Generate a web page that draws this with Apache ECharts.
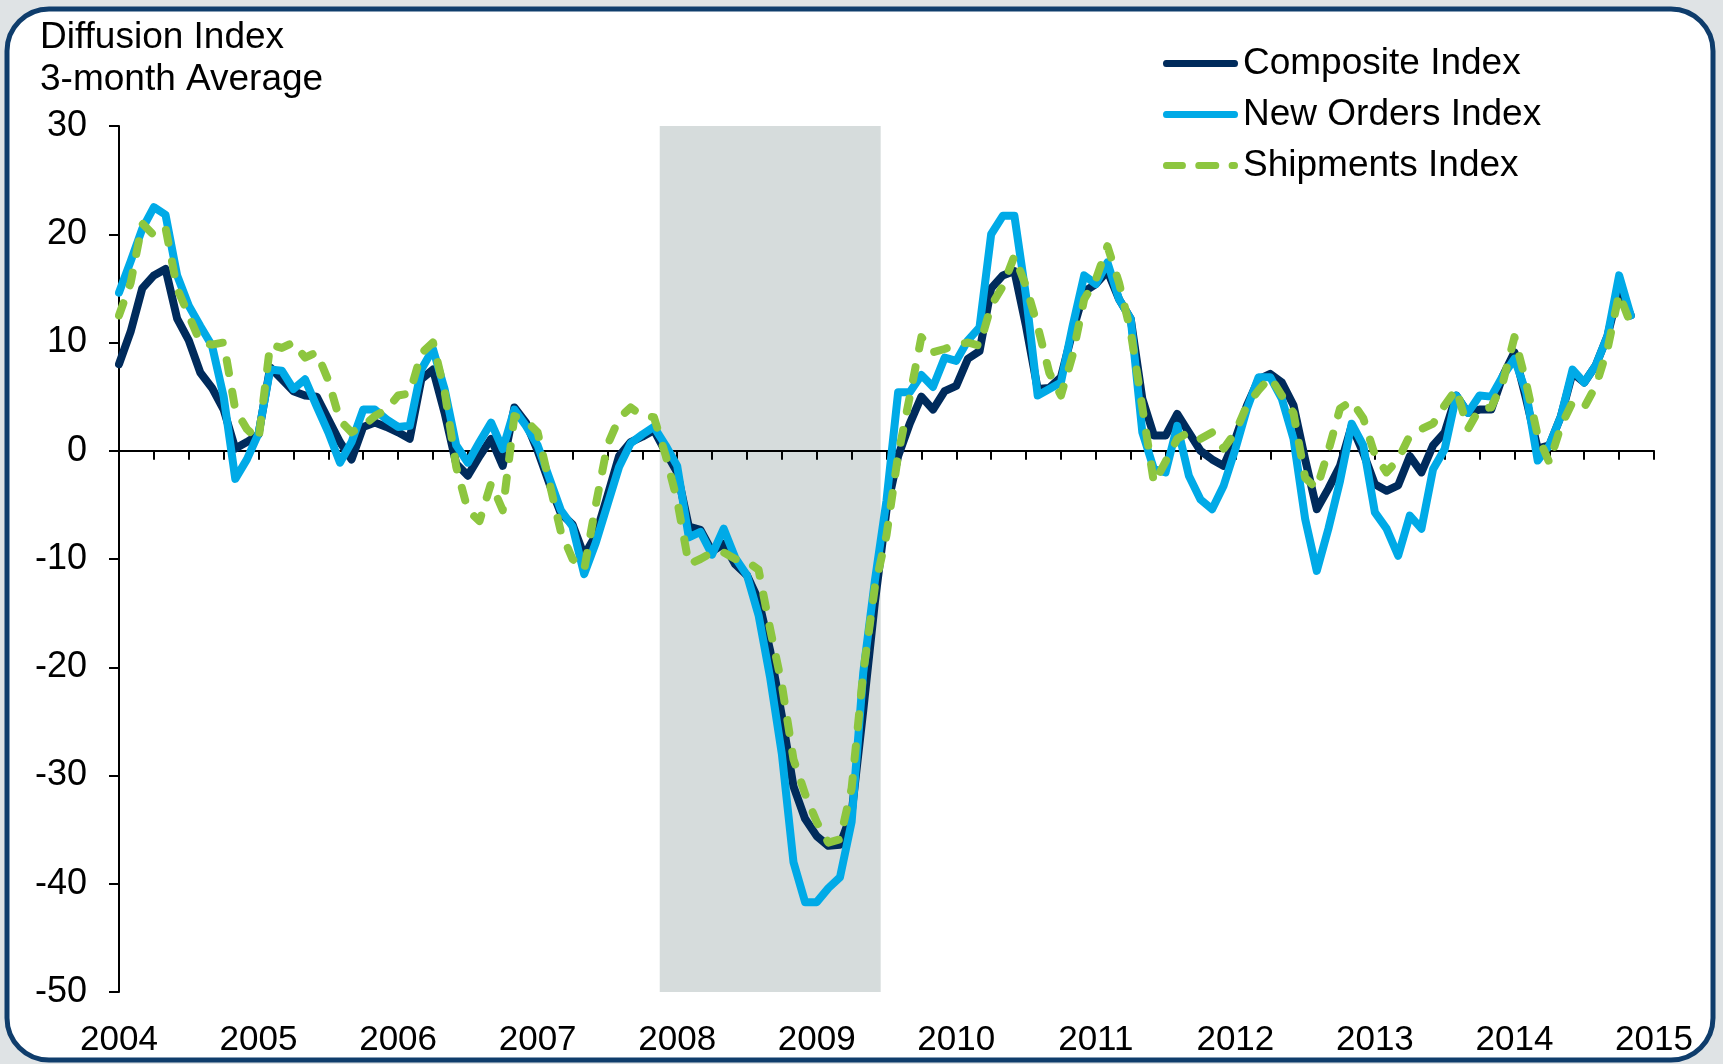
<!DOCTYPE html>
<html>
<head>
<meta charset="utf-8">
<script src="https://cdn.jsdelivr.net/npm/echarts@6/dist/echarts.min.js"></script>
<style>
  html, body { margin: 0; padding: 0; background: #dfe3e5; }
  #chart { width: 1723px; height: 1064px; }
</style>
</head>
<body>
<div id="chart"></div>
<script>
// Monthly data, index 0 = Jan 2004
const yearLabels = ['2004','2005','2006','2007','2008','2009','2010','2011','2012','2013','2014','2015'];
const seriesNames = ['Composite Index', 'New Orders Index', 'Shipments Index'];

const composite = [
  8, 11, 15, 16.2, 16.8, 12.2, 10.2, 7.2, 5.8, 3.8,
  0.2, 0.8, 1.5, 7.7, 6.6, 5.5, 5.1, 5.0, 2.9, 0.8,
  -0.8, 2.2, 2.6, 2.2, 1.7, 1.1, 6.6, 7.5, 3.5, -1.2,
  -2.3, -0.5, 1.1, -1.4, 4.0, 2.6, 0, -3, -5.8, -6.8,
  -9.7, -7.8, -4.2, -0.5, 0.8, 1.3, 1.9, -0.1, -2.0, -7.0,
  -7.3, -9.3, -8.6, -10.5, -11.5, -13.8, -18.5, -24.5, -31, -34,
  -35.6, -36.5, -36.4, -33.5, -24, -14, -5.5, -0.5, 2.5, 5.0,
  3.8, 5.5, 6.0, 8.5, 9.2, 15.0, 16.2, 16.6, 11.5, 5.7,
  5.8, 6.8, 11, 14.7, 15.4, 16.6, 14.0, 12.2, 4.8, 1.4,
  1.4, 3.4, 1.7, 0, -0.8, -1.4, 1.1, 4.2, 6.6, 7.1,
  6.3, 4.2, -0.8, -5.4, -3.5, -1.4, 2.3, -0.2, -3.1, -3.7,
  -3.2, -0.5, -2.0, 0.5, 1.7, 5.1, 3.5, 3.8, 3.8, 6.9,
  9.1, 4.8, 0.2, 0.5, 3.2, 7.2, 6.3, 7.9, 10.6, 15,
  12.5
];

const newOrders = [
  14.6, 17.5, 20.5, 22.5, 21.8, 16.2, 13.4, 11.5, 9.7, 5.0,
  -2.6, -0.8, 1.6, 7.5, 7.4, 5.7, 6.6, 4.1, 1.7, -1.1,
  0.8, 3.8, 3.8, 2.9, 2.2, 2.3, 7.5, 9.4, 5.7, 0.5,
  -1.1, 0.8, 2.6, 0.15, 3.8, 2.3, 0.5, -2.5, -5.5, -7,
  -11.4, -8.5, -5, -1.5, 0.7, 1.5, 2.2, 0.5, -1.4, -8,
  -7.5, -9.6, -7.2, -9.9, -11.5, -15.2, -21, -28, -38, -41.7,
  -41.7, -40.4, -39.4, -34.3, -20.5, -12, -4.6, 5.4, 5.4, 7,
  5.9, 8.6, 8.3, 10.2, 11.4, 20, 21.7, 21.7, 14.3, 5.1,
  5.7, 6.3, 11.5, 16.2, 15.4, 17.4, 14, 12.2, 1.7, -1.7,
  -2, 2.3, -2.3, -4.5, -5.4, -3.2, 0.15, 3.9, 6.8, 6.8,
  4.8, 1.1, -6.3, -11.1, -7.2, -2.8, 2.5, 0.5, -5.7, -7.2,
  -9.7, -6, -7.2, -1.7, 0.15, 5.1, 3.5, 5.1, 5, 6.9,
  8.5, 5.4, -0.9, 0.5, 3.2, 7.5, 6.3, 7.9, 10.6, 16.2,
  12.5
];

const shipments = [
  12.5, 15.5, 21, 19.9, 20.6, 15, 12.5, 10, 9.8, 10,
  3.8, 2, 1, 9.8, 9.5, 10, 8.6, 9.1, 6.5, 2.8,
  1.7, 2.3, 3.2, 3.8, 5.1, 5.3, 9.0, 10, 5.5, -1.5,
  -5.5, -6.5, -3, -5.5, 3.2, 2.8, 1.7, -2.9, -7.5, -10,
  -11, -5, 0.5, 3, 4, 3.2, 3.1, -0.4, -4.6, -10.5,
  -10, -9.4, -9.4, -10, -10.2, -11, -16.5, -21.6, -28.5, -31.7,
  -34.3, -36.2, -35.9, -31.2, -20.5, -12.6, -7.8, -0.4, 5, 10.5,
  9.1, 9.4, 9.8, 10, 9.7, 13.4, 15.2, 18, 15.2, 11.5,
  7.2, 5.1, 8.8, 14, 15.8, 18.9, 15.5, 11, 4, -3,
  -1, 1.1, 1.7, 1.1, 1.7, 0.2, 1.7, 4.2, 5.6, 6.8,
  5.1, 3.5, -2.5, -3.5, 0, 3.9, 4.6, 3, -0.4, -2,
  -0.8, 1.4, 2, 2.5, 4.2, 5.7, 2, 3.9, 4, 6.3,
  10.5, 6.3, 1.4, -1.1, 2.3, 4.5, 4, 6, 9.4, 14.5,
  11.7
];

// Recession (Dec 2007 - Jun 2009), in month index units
const recessionStart = 46.5;
const recessionEnd = 65.5;

const yTicks = { min: -50, max: 30, interval: 10 };

const FONT = "'Liberation Sans', Arial, sans-serif";
const toPairs = arr => arr.map((v, i) => [i, v]);

const chart = echarts.init(document.getElementById('chart'), null, { renderer: 'canvas' });

const LW = 8;
const solidIcon = 'path://M3,0 H69 A3,3 0 0 1 69,6 H3 A3,3 0 0 1 3,0 Z';
const dashIcon = 'path://M3,0 H19 A3,3 0 0 1 19,6 H3 A3,3 0 0 1 3,0 Z ' +
                 'M34,0 H51 A3,3 0 0 1 51,6 H34 A3,3 0 0 1 34,0 Z ' +
                 'M66,0 H69 A3,3 0 0 1 69,6 H66 A3,3 0 0 1 66,0 Z';

const option = {
  backgroundColor: '#dfe3e5',
  animation: false,
  graphic: [{
    type: 'rect',
    z: -10,
    silent: true,
    shape: { x: 7, y: 9, width: 1706, height: 1051, r: 42 },
    style: { fill: '#ffffff', stroke: '#0f3d6c', lineWidth: 5 }
  }],
  title: {
    text: 'Diffusion Index\n3-month Average',
    left: 35,
    top: 12,
    textStyle: { fontFamily: FONT, fontSize: 37, fontWeight: 'normal', color: '#000', lineHeight: 42 }
  },
  legend: {
    orient: 'vertical',
    left: 1158,
    top: 40,
    itemWidth: 75,
    itemHeight: 7,
    itemGap: 14,
    symbolKeepAspect: false,
    itemStyle: { borderWidth: 0 },
    textStyle: { fontFamily: FONT, fontSize: 37, color: '#000' },
    data: [
      { name: seriesNames[0], icon: solidIcon },
      { name: seriesNames[1], icon: solidIcon },
      { name: seriesNames[2], icon: dashIcon }
    ]
  },
  grid: { left: 119, right: 69, top: 126, bottom: 72, containLabel: false },
  xAxis: [{
    type: 'value',
    min: 0, max: 132, interval: 3,
    z: 2,
    axisLine: { onZero: true, lineStyle: { color: '#000', width: 2 } },
    axisTick: { show: true, length: 9, lineStyle: { color: '#000', width: 2 } },
    axisLabel: { show: false },
    splitLine: { show: false }
  }, {
    type: 'value',
    position: 'bottom',
    min: 0, max: 132, interval: 12,
    axisLine: { show: false, onZero: false },
    axisTick: { show: false },
    splitLine: { show: false },
    axisLabel: {
      margin: 31,
      fontFamily: FONT, fontSize: 35, color: '#000',
      formatter: v => yearLabels[Math.round(v / 12)]
    }
  }],
  yAxis: {
    type: 'value',
    min: yTicks.min, max: yTicks.max, interval: yTicks.interval,
    z: 2,
    axisLine: { show: true, onZero: false, lineStyle: { color: '#000', width: 2 } },
    axisTick: { show: true, length: 10, lineStyle: { color: '#000', width: 2 } },
    splitLine: { show: false },
    axisLabel: { margin: 32, fontFamily: FONT, fontSize: 36, color: '#000' }
  },
  series: [{
    name: 'recession',
    type: 'line',
    data: [],
    z: 1,
    silent: true,
    markArea: {
      silent: true,
      itemStyle: { color: '#d6dcdc' },
      data: [[{ xAxis: recessionStart }, { xAxis: recessionEnd }]]
    }
  }, {
    name: seriesNames[0],
    type: 'line',
    data: toPairs(composite),
    z: 3,
    symbol: 'none',
    color: '#002b5c',
    lineStyle: { color: '#002b5c', width: LW, join: 'round', cap: 'round' }
  }, {
    name: seriesNames[1],
    type: 'line',
    data: toPairs(newOrders),
    z: 4,
    symbol: 'none',
    color: '#00aae7',
    lineStyle: { color: '#00aae7', width: LW, join: 'round', cap: 'round' }
  }, {
    name: seriesNames[2],
    type: 'line',
    data: toPairs(shipments),
    z: 5,
    symbol: 'none',
    color: '#8dc63f',
    lineStyle: { color: '#8dc63f', width: LW, type: [13, 19], join: 'round', cap: 'round' }
  }]
};

chart.setOption(option);
</script>
</body>
</html>
